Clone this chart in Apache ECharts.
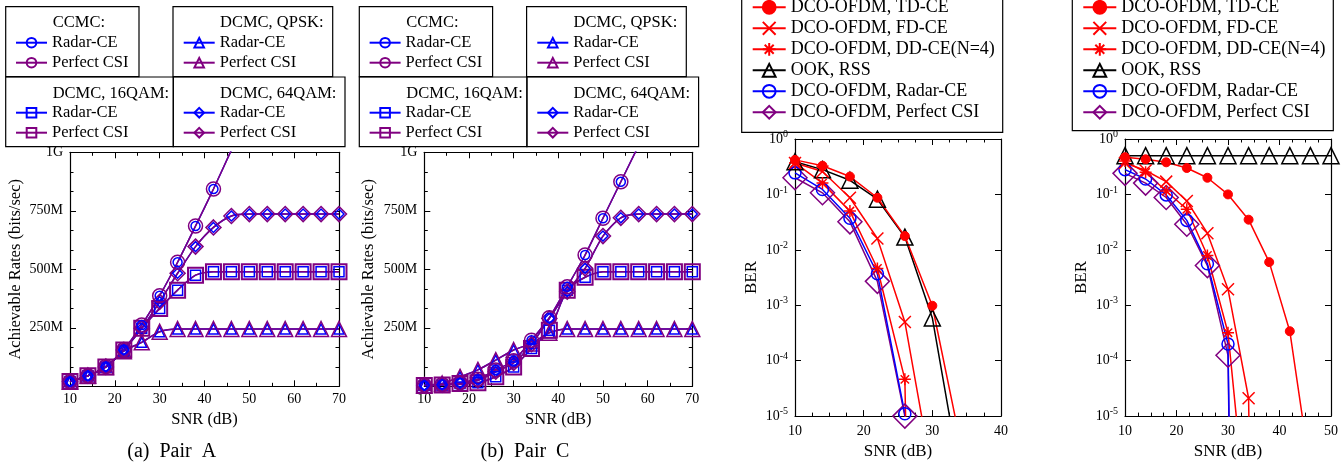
<!DOCTYPE html>
<html><head><meta charset="utf-8">
<script src="https://cdn.jsdelivr.net/npm/echarts@6/dist/echarts.min.js"></script>
<style>html,body{margin:0;padding:0;background:#fff}#c{width:1341px;height:465px}</style>
</head><body><div id="c"></div>
<script>
// ================= DATA =================
// Achievable-rate panels: SNR (dB) and rates in Mbit/s
const snrRate = [10,14,18,22,26,30,34,38,42,46,50,54,58,62,66,70];
// (a) Pair A
const ccmcA  = [20,45,85,157,262,387,530,685,843,1010,1180];
const qpskA  = [20,45,83,150,188,233,245,245,245,245,245,245,245,245,245,245];
const qam16A = [20,45,83,155,248,333,411,475,490,490,490,490,490,490,490,490];
const qam64A = [20,45,83,155,248,361,483,597,679,728,736,736,736,736,736,736];
// (b) Pair C
const ccmcC  = [5,8,15,30,70,109,197,293,425,561,718,874,1030];
const qpskC  = [5,12,40,70,112,155,183,229,245,245,245,245,245,245,245,245];
const qam16C = [3,6,12,15,41,83,162,240,411,466,490,490,490,490,490,490];
const qam64C = [4,7,14,25,62,100,180,290,404,504,642,720,736,736,736,736];
const rateTickValues = [250,500,750,1000];
const rateTickLabels = ['250M','500M','750M','1G'];

// BER panels
const NO_ERR = 1e-30; // no bit errors counted
const snrBer = [10,14,18,22,26,30,34,38,42,46,50];
// left BER panel
const tdL    = [0.42,0.33,0.21,0.087,0.0177,9.8e-4,3.8e-6];
const fdL    = [0.37,0.26,0.087,0.016,5.0e-4,8.3e-7];
const ddL    = [0.37,0.16,0.05,4.6e-3,4.6e-5,NO_ERR];
const ookL   = [0.39,0.28,0.18,0.082,0.017,5.9e-4,8.7e-7];
const radarL = [0.245,0.123,0.037,3.7e-3,1.1e-5,NO_ERR];
const perfL  = [0.2,0.107,0.032,2.7e-3,1.0e-5,NO_ERR];
// right BER panel
const tdR    = [0.47,0.43,0.38,0.30,0.2,0.1,0.035,6.0e-3,3.4e-4,1e-6];
const fdR    = [0.37,0.27,0.17,0.076,0.02,1.95e-3,2.1e-5,NO_ERR];
const ddR    = [0.4,0.25,0.115,0.054,7.9e-3,3.2e-4,5.6e-8];
const ookR   = [0.5,0.5,0.5,0.5,0.5,0.5,0.5,0.5,0.5,0.5,0.5];
const radarR = [0.28,0.19,0.098,0.034,5.6e-3,2.0e-4,NO_ERR];
const perfR  = [0.24,0.16,0.088,0.029,5.2e-3,1.25e-4,NO_ERR];

// ================= STYLE =================
const FONT = 'Liberation Serif';
const BLUE = '#0000ff', PURPLE = '#800080', RED = '#ff0000', BLACK = '#000000';
const SYM_X = 'path://M0,0L10,10M10,0L0,10';
const SYM_STAR = 'path://M5,0L5,10M0,5L10,5M1.5,1.5L8.5,8.5M8.5,1.5L1.5,8.5';

const grids = [
  {left:70, top:152.3, width:269, height:234},
  {left:424.3, top:152.3, width:268, height:234},
  {left:795, top:139, width:206, height:280.3},
  {left:1125, top:139, width:206.7, height:280.3}
];

function baseAxis(labelShow) {
  return {
    axisLine:{show:true, onZero:false, lineStyle:{color:'#000', width:1.2}},
    axisTick:{show:true, inside:true, length:6, lineStyle:{color:'#000', width:1}},
    splitLine:{show:false}, minorSplitLine:{show:false},
    axisLabel:{show:labelShow, color:'#000', fontFamily:FONT, fontSize:14}
  };
}
const xAxes = [], yAxes = [];
function rateAxes(g, nameGapY) {
  ['bottom','top'].forEach((pos,k)=>{
    const a = baseAxis(k===0);
    Object.assign(a,{type:'value', gridIndex:g, position:pos, min:10, max:70, interval:10,
      minorTick:{show:true, splitNumber:2, length:3.5, lineStyle:{color:'#000', width:1}}});
    a.axisLabel.margin = 6;
    if (k===0) Object.assign(a,{name:'SNR (dB)', nameLocation:'middle', nameGap:25,
      nameTextStyle:{fontFamily:FONT, fontSize:16.5, color:'#000'}});
    xAxes.push(a);
  });
  ['left','right'].forEach((pos,k)=>{
    const a = baseAxis(k===0);
    Object.assign(a,{type:'value', gridIndex:g, position:pos, min:0, max:1000, interval:250,
      minorTick:{show:true, splitNumber:3, length:3.5, lineStyle:{color:'#000', width:1}}});
    a.axisLabel.margin = 7;
    a.axisLabel.formatter = v => { const i = rateTickValues.indexOf(v); return i<0 ? '' : rateTickLabels[i]; };
    if (k===0) Object.assign(a,{name:'Achievable Rates (bits/sec)', nameLocation:'middle', nameGap:nameGapY,
      nameTextStyle:{fontFamily:FONT, fontSize:16.5, color:'#000'}});
    yAxes.push(a);
  });
}
function berAxes(g, xmax) {
  ['bottom','top'].forEach((pos,k)=>{
    const a = baseAxis(k===0);
    Object.assign(a,{type:'value', gridIndex:g, position:pos, min:10, max:xmax, interval:10,
      minorTick:{show:true, splitNumber:4, length:3.5, lineStyle:{color:'#000', width:1}}});
    a.axisLabel.margin = 8;
    if (k===0) Object.assign(a,{name:'SNR (dB)', nameLocation:'middle', nameGap:25,
      nameTextStyle:{fontFamily:FONT, fontSize:17, color:'#000'}});
    xAxes.push(a);
  });
  ['left','right'].forEach((pos,k)=>{
    const a = baseAxis(k===0);
    Object.assign(a,{type:'log', logBase:10, gridIndex:g, position:pos, min:1e-5, max:1, splitNumber:5,
      minorTick:{show:false}});
    a.axisLabel.margin = 7;
    a.axisLabel.formatter = v => '{b|10}{s|' + Math.round(Math.log10(v)) + '}';
    a.axisLabel.rich = {
      b:{fontFamily:FONT, fontSize:14, color:'#000'},
      s:{fontFamily:FONT, fontSize:10, color:'#000', padding:[0,0,9,0]}
    };
    if (k===0) Object.assign(a,{name:'BER', nameLocation:'middle', nameGap:35,
      nameTextStyle:{fontFamily:FONT, fontSize:17, color:'#000'}});
    yAxes.push(a);
  });
}
rateAxes(0, 46); rateAxes(1, 47); berAxes(2, 40); berAxes(3, 50);

function mkSeries(g, name, snr, vals, sym, size, color, bw, smooth, filled) {
  return {
    type:'line', name:name, xAxisIndex:g*2, yAxisIndex:g*2,
    data: vals.map((v,i)=>[snr[i], v]),
    symbol:sym, symbolSize:size, showSymbol:true, clip:true, smooth:smooth,
    lineStyle:{color:color, width:1.5},
    itemStyle:{color: filled ? color : 'rgba(0,0,0,0)', borderColor:color, borderWidth:bw},
    emphasis:{disabled:true}, silent:true
  };
}
const series = [];
function rateGroup(g, tag, grp, vals, sym, inner, outer, bw) {
  series.push(mkSeries(g, tag+'|'+grp+'|Radar-CE', snrRate, vals, sym, inner, BLUE, 1.5, 0.25, false));
  series.push(mkSeries(g, tag+'|'+grp+'|Perfect CSI', snrRate, vals, sym, outer, PURPLE, bw, 0.25, false));
}
rateGroup(0,'A','QPSK',qpskA,'triangle',10,15,1.5);
rateGroup(0,'A','16QAM',qam16A,'rect',10,15,2);
rateGroup(0,'A','64QAM',qam64A,'diamond',10,15,1.5);
rateGroup(0,'A','CCMC',ccmcA,'circle',9,14,1.5);
rateGroup(1,'B','QPSK',qpskC,'triangle',10,15,1.5);
rateGroup(1,'B','16QAM',qam16C,'rect',10,15,2);
rateGroup(1,'B','64QAM',qam64C,'diamond',10,15,1.5);
rateGroup(1,'B','CCMC',ccmcC,'circle',9,14,1.5);

function berGroup(g, tag, td, fd, dd, ook, radar, perf) {
  series.push(mkSeries(g, tag+'|DCO-OFDM, Perfect CSI', snrBer, perf, 'diamond', 24, PURPLE, 1.5, false, false));
  series.push(mkSeries(g, tag+'|DCO-OFDM, Radar-CE', snrBer, radar, 'circle', 12, BLUE, 1.5, false, false));
  series.push(mkSeries(g, tag+'|OOK, RSS', snrBer, ook, 'triangle', 16, BLACK, 1.5, false, false));
  series.push(mkSeries(g, tag+'|DCO-OFDM, DD-CE(N=4)', snrBer, dd, SYM_STAR, 12, RED, 1.5, false, true));
  series.push(mkSeries(g, tag+'|DCO-OFDM, FD-CE', snrBer, fd, SYM_X, 12, RED, 1.5, false, true));
  series.push(mkSeries(g, tag+'|DCO-OFDM, TD-CE', snrBer, td, 'circle', 9, RED, 1, false, true));
}
berGroup(2,'C',tdL,fdL,ddL,ookL,radarL,perfL);
berGroup(3,'D',tdR,fdR,ddR,ookR,radarR,perfR);

// ================= LEGENDS =================
function lg(left, top, names, iw, ih, fs, lh) {
  return {
    show:true, orient:'vertical', left:left, top:top, padding:0, itemGap:0,
    itemWidth:iw, itemHeight:ih, selectedMode:false, data:names,
    formatter: n => n.split('|').pop(),
    textStyle:{fontFamily:FONT, fontSize:fs, color:'#000', lineHeight:lh}
  };
}
const legends = [];
[['A',0],['B',353.6]].forEach(([t,dx])=>{
  legends.push(lg(15+dx, 32.7, [t+'|CCMC|Radar-CE', t+'|CCMC|Perfect CSI'], 31, 12, 16.5, 20));
  legends.push(lg(182.7+dx, 32.7, [t+'|QPSK|Radar-CE', t+'|QPSK|Perfect CSI'], 31, 12, 16.5, 20));
  legends.push(lg(15+dx, 102.7, [t+'|16QAM|Radar-CE', t+'|16QAM|Perfect CSI'], 31, 12, 16.5, 20));
  legends.push(lg(182.7+dx, 102.7, [t+'|64QAM|Radar-CE', t+'|64QAM|Perfect CSI'], 31, 12, 16.5, 20));
});
const berNames = ['DCO-OFDM, TD-CE','DCO-OFDM, FD-CE','DCO-OFDM, DD-CE(N=4)','OOK, RSS','DCO-OFDM, Radar-CE','DCO-OFDM, Perfect CSI'];
legends.push(lg(751.7, -3.2, berNames.map(n=>'C|'+n), 33, 16, 18, 21));
legends.push(lg(1082.3, -3.2, berNames.map(n=>'D|'+n), 33, 16, 18, 21));

// ================= DECORATIONS (legend frames, group titles, captions) =================
const graphic = [];
function box(x0,y0,x1,y1){ graphic.push({type:'rect', shape:{x:x0,y:y0,width:x1-x0,height:y1-y0}, style:{fill:'none', stroke:'#000', lineWidth:1.2}, silent:true, z:100}); }
function txt(x,y,s,fs,align){ graphic.push({type:'text', x:x, y:y, style:{text:s, fontFamily:FONT, fontSize:fs, fill:'#000', align:align||'left', verticalAlign:'middle'}, silent:true, z:100}); }
[0,353.6].forEach(dx=>{
  box(5.7+dx,6.7,139+dx+(dx?0:0),76.7);
  box(173+dx,6.7,332.7+dx,76.7);
  box(5.7+dx,77,173.3+dx,146.7);
  box(173.3+dx,77,345+dx,146.7);
  txt(52.7+dx,22.7,'CCMC:',16.5);
  txt(220+dx,22.7,'DCMC, QPSK:',16.5);
  txt(52.7+dx,93.3,'DCMC, 16QAM:',16.5);
  txt(220+dx,93.3,'DCMC, 64QAM:',16.5);
});
box(741.7,-5,1002.7,132.3);
box(1072.3,-5,1333.3,130.7);
txt(171.7,451.7,'(a)\u2002Pair\u2002A',20,'center');
txt(525,451.7,'(b)\u2002Pair\u2002C',20,'center');

const chart = echarts.init(document.getElementById('c'), null, {renderer:'canvas'});
chart.setOption({
  animation:false,
  backgroundColor:'#fff',
  textStyle:{fontFamily:FONT, color:'#000'},
  grid:grids,
  xAxis:xAxes, yAxis:yAxes,
  legend:legends,
  series:series,
  graphic:graphic
});
</script></body></html>
